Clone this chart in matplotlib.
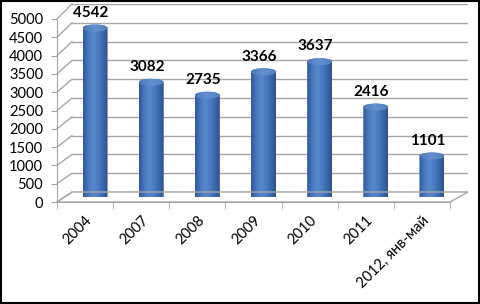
import matplotlib
matplotlib.use('Agg')
import matplotlib.pyplot as plt
import numpy as np
from matplotlib.patches import PathPatch, Ellipse, Polygon, Rectangle, ConnectionPatch
from matplotlib.path import Path
from matplotlib.colors import LinearSegmentedColormap

plt.rcParams['font.family'] = ['Lato', 'DejaVu Sans']

categories = ["2004", "2007", "2008", "2009", "2010", "2011", "2012, янв-май"]
values = [4542, 3082, 2735, 3366, 3637, 2416, 1101]
y_ticks = [0, 500, 1000, 1500, 2000, 2500, 3000, 3500, 4000, 4500, 5000]

W, H = 480, 304
fig = plt.figure(figsize=(W / 100, H / 100), dpi=100)


def px_axes(x0, x1, y_bottom, y_top):
    # pixel box (from top-left) -> figure fraction axes
    return fig.add_axes([x0 / W, (H - y_bottom) / H, (x1 - x0) / W, (y_bottom - y_top) / H])


grid_col = "#a6a6a6"
n = len(categories)
xlim = (-0.5, n - 0.5)

# back wall
ax_back = px_axes(72, 468, 192, 4)
ax_back.set_xlim(*xlim)
ax_back.set_ylim(0, 5000)
for v in y_ticks:
    ax_back.axhline(v, color=grid_col, lw=1)
ax_back.axis("off")

# front plane with axes and ticks
ax = px_axes(57, 450, 202, 19)
ax.set_xlim(*xlim)
ax.set_ylim(0, 5000)
ax.patch.set_alpha(0)
for s in ["top", "right"]:
    ax.spines[s].set_visible(False)
for s in ["left", "bottom"]:
    ax.spines[s].set_color(grid_col)
ax.set_yticks(y_ticks)
ax.set_yticklabels([str(v) for v in y_ticks], fontsize=10.5)
ax.tick_params(axis="y", colors=grid_col, labelcolor="black", length=4, pad=6)
ax.set_xticks(np.arange(n))
ax.set_xticks(np.arange(n + 1) - 0.5, minor=True)
ax.tick_params(axis="x", which="major", length=0, pad=8)
ax.tick_params(axis="x", which="minor", length=5, colors=grid_col)
ax.set_xticklabels(categories, rotation=45, ha="right", va="top",
                   rotation_mode="anchor", fontsize=10.5)

# side wall diagonals and floor
for v in y_ticks:
    con = ConnectionPatch(xyA=(xlim[0], v), coordsA=ax.transData,
                          xyB=(xlim[0], v), coordsB=ax_back.transData,
                          color=grid_col, lw=1)
    fig.add_artist(con)
inv = fig.transFigure.inverted()
floor = [inv.transform(ax.transData.transform((xlim[0], 0))),
         inv.transform(ax.transData.transform((xlim[1], 0))),
         inv.transform(ax_back.transData.transform((xlim[1], 0))),
         inv.transform(ax_back.transData.transform((xlim[0], 0)))]
fig.add_artist(Polygon(floor, closed=True, fill=False, ec=grid_col, lw=1,
                       transform=fig.transFigure))

# cylinders at mid depth
ax_bar = px_axes(67, 460, 197, 11)
ax_bar.set_xlim(*xlim)
ax_bar.set_ylim(0, 5000)
ax_bar.axis("off")

body_cmap = LinearSegmentedColormap.from_list(
    "cyl", ["#30599a", "#4677bd", "#5787cc", "#4c7dc2", "#3c69ad", "#2a5290"])
top_cmap = LinearSegmentedColormap.from_list("top", ["#4a78bb", "#6590d0", "#5080c2"])
grad = np.linspace(0, 1, 64).reshape(1, -1)

bw = 0.445
eh = 190  # ellipse height in value units
t = np.linspace(np.pi, 2 * np.pi, 40)
t2 = np.linspace(0, np.pi, 40)
for i, v in enumerate(values):
    xs = list(i + bw / 2 * np.cos(t)) + list(i + bw / 2 * np.cos(t2))
    ys = list(eh / 2 * np.sin(t)) + list(v + eh / 2 * np.sin(t2))
    verts = list(zip(xs, ys)) + [(xs[0], ys[0])]
    codes = [Path.MOVETO] + [Path.LINETO] * (len(verts) - 2) + [Path.CLOSEPOLY]
    patch = PathPatch(Path(verts, codes), fc="none", ec="none")
    ax_bar.add_patch(patch)
    im = ax_bar.imshow(grad, cmap=body_cmap, aspect="auto",
                       extent=(i - bw / 2, i + bw / 2, -eh, v + eh), zorder=2)
    im.set_clip_path(patch)
    top = Ellipse((i, v), bw, eh, fc="none", ec="none")
    ax_bar.add_patch(top)
    im2 = ax_bar.imshow(grad, cmap=top_cmap, aspect="auto",
                        extent=(i - bw / 2, i + bw / 2, v - eh, v + eh), zorder=3)
    im2.set_clip_path(top)
    ax_bar.annotate(str(v), (i, v), xytext=(-3, 11), textcoords="offset points",
                    ha="center", va="center", fontsize=11, fontweight="bold")
ax_bar.set_xlim(*xlim)
ax_bar.set_ylim(0, 5000)

# outer frame
fig.add_artist(Rectangle((0.002, 0.003), 0.996, 0.994, transform=fig.transFigure,
                         fill=False, ec="black", lw=1.5))

fig.savefig("out.png", dpi=100)
